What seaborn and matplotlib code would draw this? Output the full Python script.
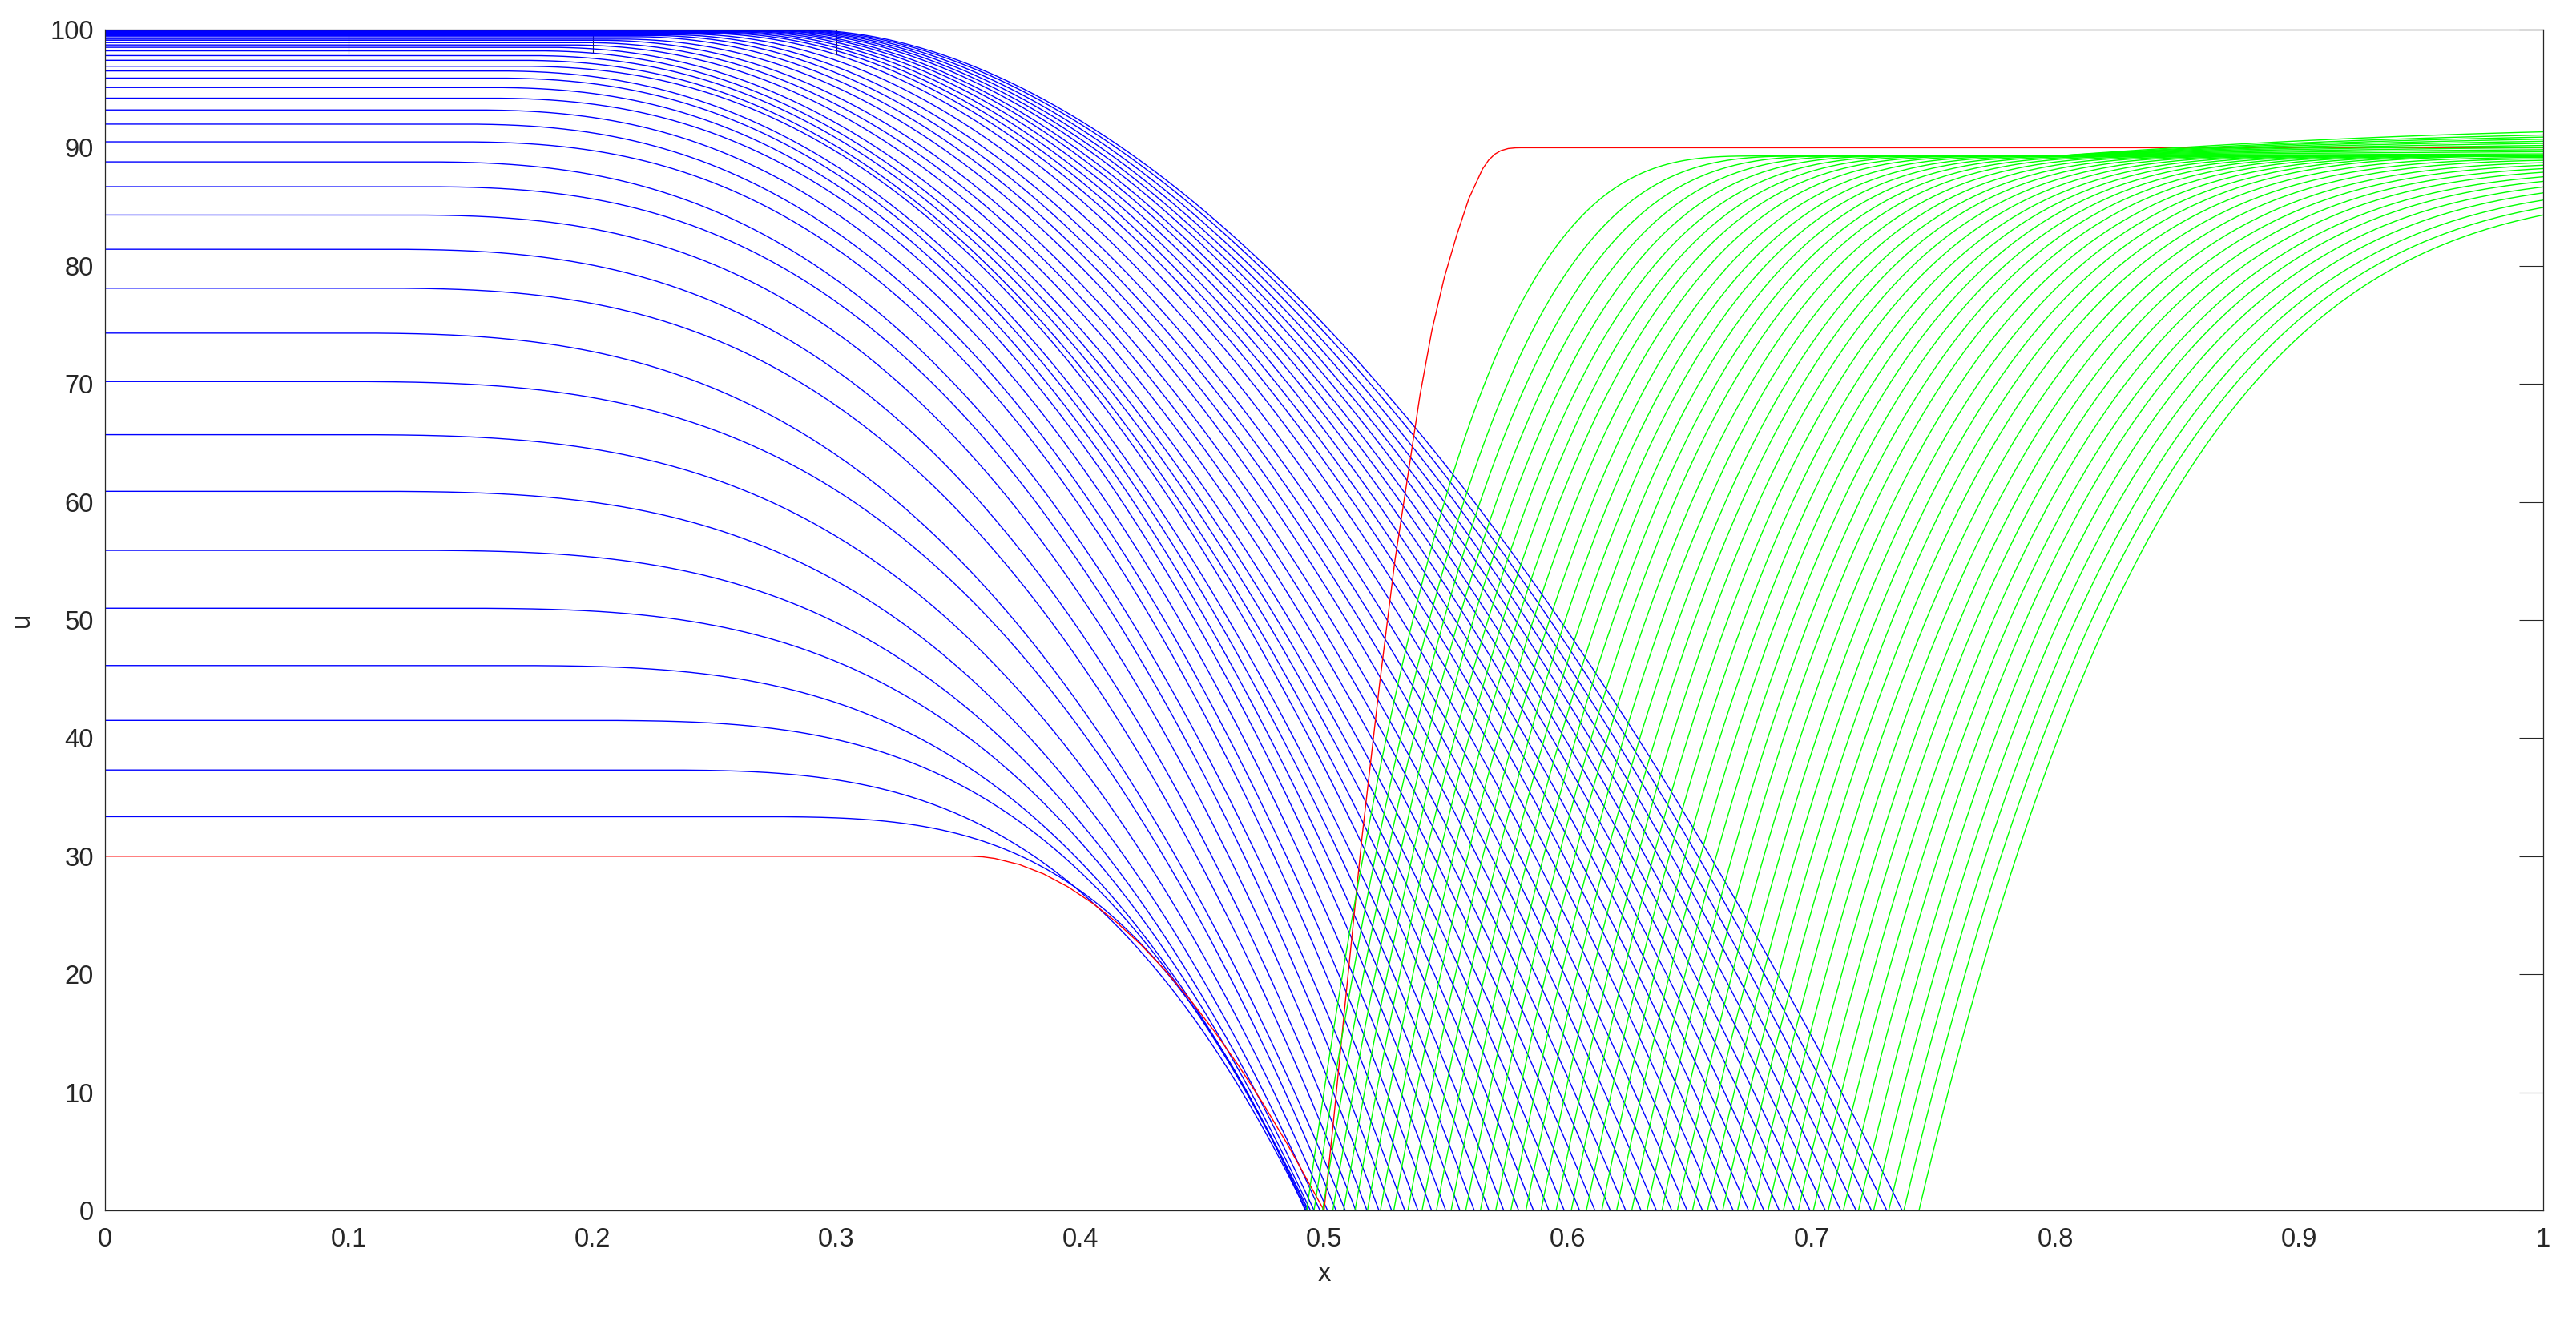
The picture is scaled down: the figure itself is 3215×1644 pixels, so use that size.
import numpy as np
import pandas as pd
import matplotlib
matplotlib.use('Agg')
import matplotlib.pyplot as plt
import seaborn as sns

# starting profiles (red)
red_left_x = [0, 0.355, 0.36, 0.365, 0.375, 0.385, 0.395, 0.405, 0.415, 0.425, 0.435,
              0.445, 0.455, 0.465, 0.475, 0.485, 0.5]
red_left_u = [30, 30, 29.95, 29.81, 29.3, 28.5, 27.4, 26.03, 24.39, 22.48, 20.3,
              17.87, 15.18, 12.24, 9.05, 5.6, 0]
red_right_x = [0.5, 0.5036, 0.5084, 0.5155, 0.5229, 0.5291, 0.5342, 0.5393, 0.5442, 0.5493,
               0.5544, 0.5594, 0.565, 0.5675, 0.570, 0.5725, 0.5755, 0.5785, 0.5807, 1.0]
red_right_u = [0, 7.0, 17.0, 31.5, 44.8, 55.1, 62.0, 69.0, 74.5, 79.0,
               82.6, 85.7, 88.2, 88.95, 89.45, 89.75, 89.93, 89.99, 90.0, 90.0]

# blue curves: plateau level, where the plateau ends, where u reaches 0, shape exponent
blue_level = [33.35, 37.3, 41.5, 46.15, 51.0, 55.9, 60.9, 65.7, 70.2, 74.3, 78.1, 81.4,
              84.3, 86.7, 88.8, 90.5, 92.0, 93.2, 94.2, 95.1, 95.9, 96.5, 96.9, 97.4,
              97.8, 98.2, 98.5, 98.7, 98.9, 99.1, 99.2, 99.4, 99.5, 99.57, 99.63, 99.69,
              99.73, 99.77, 99.81, 99.84, 99.86, 99.88, 99.9, 99.91, 99.93, 99.94, 99.95, 99.96]
blue_knee = [0.26, 0.22, 0.19, 0.156, 0.136, 0.116, 0.102, 0.092, 0.088, 0.096, 0.109, 0.111,
             0.120, 0.127, 0.128, 0.142, 0.144, 0.149, 0.155, 0.156, 0.158, 0.159, 0.169, 0.169,
             0.173, 0.176, 0.181, 0.190, 0.196, 0.202, 0.211, 0.217, 0.224, 0.231, 0.238, 0.245,
             0.250, 0.254, 0.258, 0.262, 0.266, 0.269, 0.273, 0.276, 0.279, 0.282, 0.285, 0.288]
blue_zero = [0.4923, 0.4926, 0.4931, 0.4936, 0.4944, 0.4959, 0.4983, 0.5014, 0.5049, 0.5087,
             0.5130, 0.5176, 0.5225, 0.5277, 0.5331, 0.5385, 0.5441, 0.5499, 0.5557, 0.5616,
             0.5676, 0.5737, 0.5798, 0.5859, 0.5922, 0.5985, 0.6048, 0.6111, 0.6174, 0.6237,
             0.6300, 0.6363, 0.6426, 0.6489, 0.6552, 0.6615, 0.6678, 0.6741, 0.6804, 0.6867,
             0.6930, 0.6993, 0.7056, 0.7119, 0.7182, 0.7245, 0.7308, 0.7371]
blue_power = [3.3, 3.1, 3.2, 3.15, 3.1, 3.05, 3.0, 3.0, 3.0, 2.8, 2.75, 2.7,
              2.65, 2.6, 2.55, 2.5, 2.45, 2.42, 2.39, 2.36, 2.33, 2.3, 2.27, 2.24,
              2.21, 2.18, 2.15, 2.12, 2.1, 2.08, 2.06, 2.04, 2.02, 2.0, 1.99, 1.98,
              1.97, 1.96, 1.95, 1.94, 1.93, 1.92, 1.91, 1.9, 1.89, 1.88, 1.87, 1.85]

# green curves: where u leaves 0, rise width, shape exponent, level, late rise near x=1
green_zero = [0.4929, 0.4959, 0.4994, 0.5036, 0.5080, 0.5127, 0.5178, 0.5231, 0.5286, 0.5344,
              0.5402, 0.5461, 0.5521, 0.5581, 0.5641, 0.5704, 0.5766, 0.5828, 0.5890, 0.5952,
              0.6014, 0.6076, 0.6139, 0.6200, 0.6262, 0.6325, 0.6386, 0.6449, 0.6511, 0.6573,
              0.6635, 0.6696, 0.6759, 0.6821, 0.6884, 0.6945, 0.7007, 0.7068, 0.7130, 0.7192,
              0.7254, 0.7316, 0.7378, 0.7440]
green_width = [0.187, 0.205, 0.218, 0.228, 0.237, 0.245, 0.252, 0.258, 0.264, 0.27,
               0.276, 0.281, 0.286, 0.291, 0.296, 0.301, 0.306, 0.311, 0.316, 0.321,
               0.326, 0.331, 0.336, 0.341, 0.346, 0.351, 0.357, 0.363, 0.369, 0.375,
               0.381, 0.387, 0.393, 0.399, 0.405, 0.41, 0.415, 0.42, 0.424, 0.428,
               0.432, 0.435, 0.438, 0.44]
green_power = [3.10, 3.13, 3.17, 3.20, 3.23, 3.26, 3.30, 3.33, 3.36, 3.39,
               3.43, 3.46, 3.49, 3.52, 3.56, 3.59, 3.62, 3.65, 3.69, 3.72,
               3.75, 3.78, 3.82, 3.85, 3.88, 3.91, 3.95, 3.98, 4.01, 4.04,
               4.08, 4.11, 4.14, 4.17, 4.21, 4.24, 4.27, 4.30, 4.34, 4.37,
               4.40, 4.43, 4.47, 4.50]
green_level = [89.3] * 30 + [89.2, 89.1, 89.0, 88.85, 88.7, 88.5, 88.3, 88.05, 87.8, 87.5,
                             87.2, 86.8, 86.4, 86.0]
green_bump = [0, 2.3, 2.0, 1.8, 1.6, 1.4, 1.2, 1.0, 0.8, 0.6, 0.4, 0.2] + [0] * 32


def blue_curve(level, knee, zero, power):
    x = np.linspace(0, zero, 700)
    s = np.clip((x - knee) / (zero - knee), 0, 1)
    return x, level * (1 - s ** power)


def green_curve(zero, width, power, level, bump):
    x = np.linspace(zero, 1, 700)
    s = np.clip((x - zero) / width, 0, 1)
    u = level * (1 - (1 - s) ** power)
    s2 = np.clip((x - 0.8) / 0.3, 0, 1)
    u = u + bump * (1 - (1 - s2) ** 2)
    return x, u


rows = []
for i in range(len(blue_level)):
    x, u = blue_curve(blue_level[i], blue_knee[i], blue_zero[i], blue_power[i])
    rows.append(pd.DataFrame({'x': x, 'u': u, 'curve': i}))
df_blue = pd.concat(rows, ignore_index=True)

rows = []
for i in range(len(green_zero)):
    x, u = green_curve(green_zero[i], green_width[i], green_power[i], green_level[i], green_bump[i])
    rows.append(pd.DataFrame({'x': x, 'u': u, 'curve': i}))
df_green = pd.concat(rows, ignore_index=True)

df_red = pd.concat([pd.DataFrame({'x': red_left_x, 'u': red_left_u, 'curve': 0}),
                    pd.DataFrame({'x': red_right_x, 'u': red_right_u, 'curve': 1})],
                   ignore_index=True)

sns.set_style('white')
plt.rcParams['font.family'] = ['Liberation Sans', 'DejaVu Sans']

fig = plt.figure(figsize=(32.15, 16.44), dpi=100)
ax = fig.add_axes([131 / 3215, 133 / 1644, 3043 / 3215, 1474 / 1644])

lw = 1.0
sns.lineplot(data=df_blue, x='x', y='u', units='curve', estimator=None, sort=False,
             color='#0000ff', lw=lw, ax=ax)
sns.lineplot(data=df_red, x='x', y='u', units='curve', estimator=None, sort=False,
             color='#ff0000', lw=lw, ax=ax)
sns.lineplot(data=df_green, x='x', y='u', units='curve', estimator=None, sort=False,
             color='#00ff00', lw=lw, ax=ax)

ax.set_xlim(0, 1)
ax.set_ylim(0, 100)
x_ticks = [0, 0.1, 0.2, 0.3, 0.4, 0.5, 0.6, 0.7, 0.8, 0.9, 1]
x_tick_labels = ['0', '0.1', '0.2', '0.3', '0.4', '0.5', '0.6', '0.7', '0.8', '0.9', '1']
top_ticks = [0.1, 0.2, 0.3]
y_ticks = [0, 10, 20, 30, 40, 50, 60, 70, 80, 90, 100]
ax.set_xticks(x_ticks)
ax.set_xticklabels(x_tick_labels)
ax.set_yticks(y_ticks)
ax.set_yticklabels([str(v) for v in y_ticks])

ink = '#262626'
ax.tick_params(axis='both', direction='in', length=21.6, width=0.8, color=ink,
               labelsize=23.6, labelcolor=ink, top=False, right=True)
ax.tick_params(axis='x', pad=15)
ax.tick_params(axis='y', pad=10)
for sp in ax.spines.values():
    sp.set_color(ink)
    sp.set_linewidth(0.9)
    sp.set_visible(True)

# top edge only carries the first few tick marks
top = ax.secondary_xaxis('top')
top.set_xticks(top_ticks)
top.tick_params(direction='in', length=21.6, width=0.8, color=ink, labeltop=False)
top.spines['top'].set_visible(False)

ax.set_xlabel('x', fontsize=23.6, color=ink, labelpad=9)
ax.set_ylabel('u', fontsize=23.6, color=ink, labelpad=14)

fig.savefig('out.png', dpi=100, facecolor='white')
